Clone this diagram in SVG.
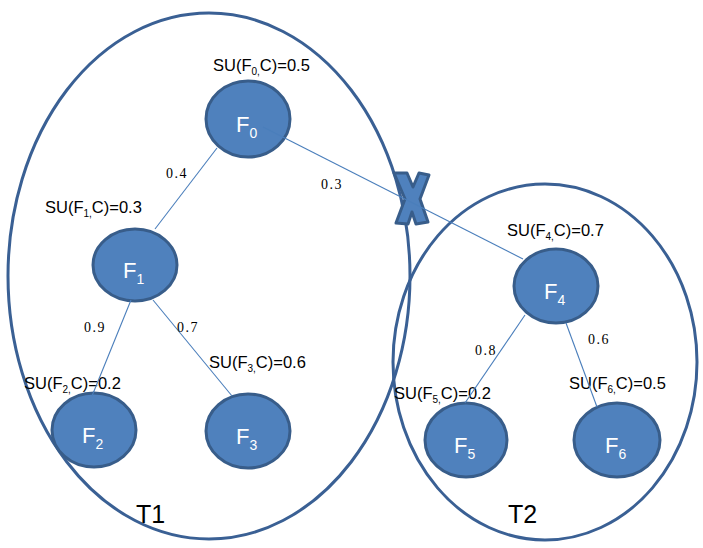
<svg xmlns="http://www.w3.org/2000/svg" width="703" height="548" viewBox="0 0 703 548">
  <style>
    .tree { fill: none; stroke: #3a6094; stroke-width: 3; }
    .node ellipse { fill: #4f81bd; stroke: #385d8a; stroke-width: 3; }
    .nl { fill: #ffffff; font-family: "Liberation Sans", Arial, sans-serif; font-size: 22px; }
    .su { fill: #000000; font-family: "Liberation Sans", Arial, sans-serif; font-size: 16.5px; }
    .w { fill: #000000; font-family: "Liberation Serif", "Times New Roman", serif; font-size: 14px; letter-spacing: 1.5px; }
    .tl { fill: #000000; font-family: "Liberation Sans", Arial, sans-serif; font-size: 25px; }
    .edge { stroke: #4a7ebb; stroke-width: 1.1; fill: none; }
  </style>

  <!-- tree groupings -->
  <g id="T1">
    <ellipse class="tree" cx="209" cy="276" rx="201" ry="263"/>
    <text class="tl" x="136" y="523">T1</text>
  </g>
  <g id="T2">
    <ellipse class="tree" cx="545" cy="362" rx="152" ry="178"/>
    <text class="tl" x="508" y="523">T2</text>
  </g>

  <!-- cut mark on the link between the trees -->
  <g id="cut">
    <polygon points="394,173 407,173 413,187 419,173 429,175 420,199 428,222 416,224 412,212 408,224 396,223 405,199" fill="#4f81bd" stroke="#385d8a" stroke-width="3" stroke-linejoin="round"/>
  </g>

  <!-- nodes -->
  <g id="F0" class="node">
    <ellipse cx="248" cy="119" rx="42" ry="38"/>
    <text class="nl" x="236" y="132">F<tspan font-size="14" dy="6">0</tspan></text>
    <text class="su" x="213" y="71">SU(F<tspan font-size="10" dy="4">0,</tspan><tspan dy="-4">C)=0.5</tspan></text>
  </g>
  <g id="F1" class="node">
    <ellipse cx="135" cy="265" rx="42" ry="36"/>
    <text class="nl" x="123" y="278">F<tspan font-size="14" dy="6">1</tspan></text>
    <text class="su" x="45" y="213">SU(F<tspan font-size="10" dy="4">1,</tspan><tspan dy="-4">C)=0.3</tspan></text>
  </g>
  <g id="F2" class="node">
    <ellipse cx="94" cy="430" rx="42" ry="37"/>
    <text class="nl" x="82" y="443">F<tspan font-size="14" dy="6">2</tspan></text>
    <text class="su" x="24" y="389">SU(F<tspan font-size="10" dy="4">2,</tspan><tspan dy="-4">C)=0.2</tspan></text>
  </g>
  <g id="F3" class="node">
    <ellipse cx="248" cy="431" rx="42" ry="37"/>
    <text class="nl" x="236" y="444">F<tspan font-size="14" dy="6">3</tspan></text>
    <text class="su" x="209" y="368">SU(F<tspan font-size="10" dy="4">3,</tspan><tspan dy="-4">C)=0.6</tspan></text>
  </g>
  <g id="F4" class="node">
    <ellipse cx="556" cy="286" rx="42" ry="37"/>
    <text class="nl" x="544" y="299">F<tspan font-size="14" dy="6">4</tspan></text>
    <text class="su" x="507" y="236">SU(F<tspan font-size="10" dy="4">4,</tspan><tspan dy="-4">C)=0.7</tspan></text>
  </g>
  <g id="F5" class="node">
    <ellipse cx="466" cy="440" rx="41" ry="37"/>
    <text class="nl" x="454" y="453">F<tspan font-size="14" dy="6">5</tspan></text>
    <text class="su" x="394" y="399">SU(F<tspan font-size="10" dy="4">5,</tspan><tspan dy="-4">C)=0.2</tspan></text>
  </g>
  <g id="F6" class="node">
    <ellipse cx="617" cy="440" rx="43" ry="37"/>
    <text class="nl" x="605" y="453">F<tspan font-size="14" dy="6">6</tspan></text>
    <text class="su" x="569" y="389">SU(F<tspan font-size="10" dy="4">6,</tspan><tspan dy="-4">C)=0.5</tspan></text>
  </g>

  <!-- connectors with their weights -->
  <g id="edges">
    <line class="edge" x1="217" y1="148" x2="155" y2="229"/>
    <line class="edge" x1="263" y1="127" x2="523" y2="259"/>
    <line class="edge" x1="131" y1="300" x2="92" y2="396"/>
    <line class="edge" x1="153" y1="300" x2="232" y2="396"/>
    <line class="edge" x1="525" y1="315" x2="465" y2="403"/>
    <line class="edge" x1="566" y1="323" x2="597" y2="407"/>
    <text class="w" x="166" y="178">0.4</text>
    <text class="w" x="321" y="189">0.3</text>
    <text class="w" x="84" y="332">0.9</text>
    <text class="w" x="177" y="332">0.7</text>
    <text class="w" x="475" y="355">0.8</text>
    <text class="w" x="588" y="344">0.6</text>
  </g>
</svg>
